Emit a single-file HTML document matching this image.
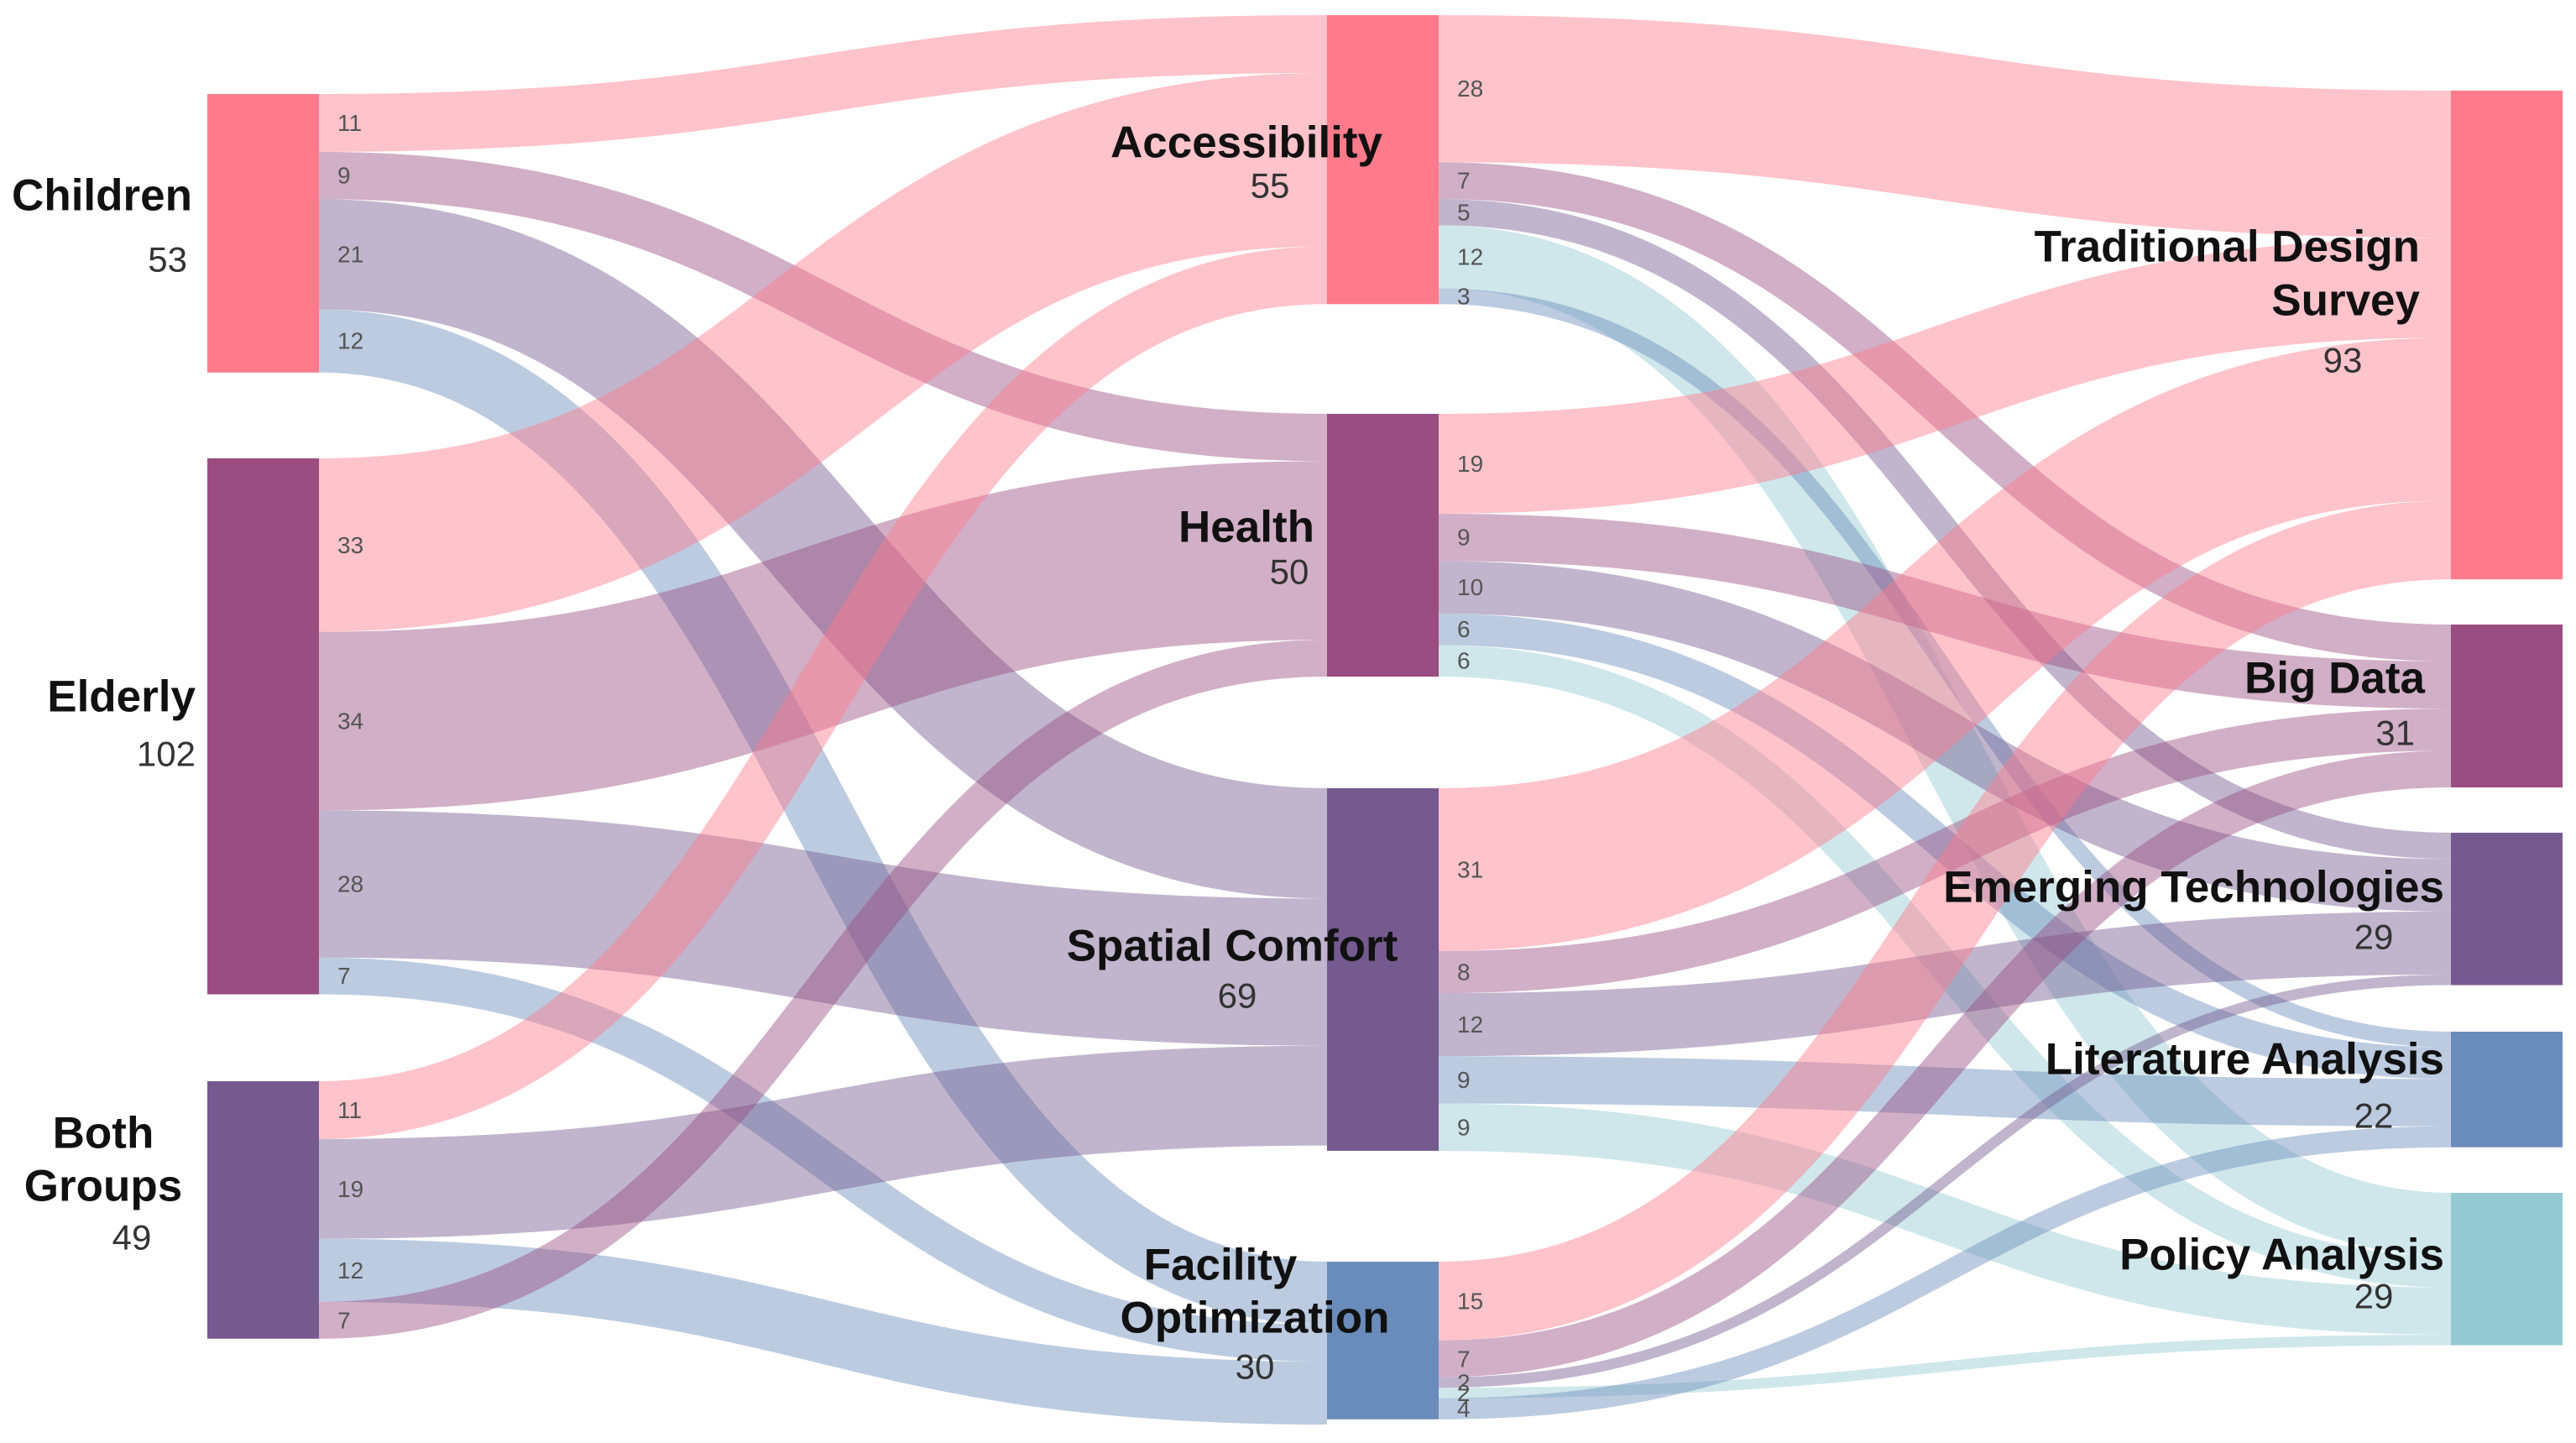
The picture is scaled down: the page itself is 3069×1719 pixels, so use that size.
<!DOCTYPE html>
<html><head><meta charset="utf-8">
<style>
html,body{margin:0;padding:0;background:#fff;}
svg{display:block;font-family:"Liberation Sans",sans-serif;}
.nl{font-weight:bold;font-size:53px;fill:#111;}
.nv{font-size:42px;fill:#333;}
.lv{font-size:28px;fill:#555;}
</style></head>
<body>
<svg id="chart" width="3069" height="1719" viewBox="0 0 3069 1719" xmlns="http://www.w3.org/2000/svg">
<g id="links"></g>
<g id="nodes"></g>
<g id="labels"></g>
</svg>
<script>
// Nodes
const nodeNames = ["Children","Elderly","Both Groups","Accessibility","Health","Spatial Comfort","Facility Optimization","Traditional Design Survey","Big Data","Emerging Technologies","Literature Analysis","Policy Analysis"];
const nodeValues = [53,102,49,55,50,69,30,93,31,29,22,29];
const nodeColumn = [0,0,0,1,1,1,1,2,2,2,2,2];
// Links (in source-side order)
const linkSources = [0,0,0,0, 1,1,1,1, 2,2,2,2, 3,3,3,3,3, 4,4,4,4,4, 5,5,5,5,5, 6,6,6,6,6];
const linkTargets = [3,4,5,6, 3,4,5,6, 3,5,6,4, 7,8,9,11,10, 7,8,9,10,11, 7,8,9,10,11, 7,8,9,11,10];
const linkValues  = [11,9,21,12, 33,34,28,7, 11,19,12,7, 28,7,5,12,3, 19,9,10,6,6, 31,8,12,9,9, 15,7,2,2,4];

// Layout (not data)
const K = 6.26;
const colX = [247,1581,2920];
const nodeW = 133;
const nodeTop = [112,546,1288,18,493,939,1503,108,744,992,1229,1421];
const nodeColors = ["#ff7b8b","#9a4d80","#745a8f","#ff7b8b","#9a4d80","#745a8f","#6a8cba","#ff7b8b","#9a4d80","#745a8f","#6a8cba","#95cad2"];

const NS="http://www.w3.org/2000/svg";
const gL=document.getElementById('links'), gN=document.getElementById('nodes'), gT=document.getElementById('labels');

const srcOff = nodeNames.map(()=>0);
const linkY0 = [], linkY1 = [];
linkValues.forEach((v,i)=>{
  const s=linkSources[i];
  linkY0[i]=nodeTop[s]+srcOff[s]+v*K/2;
  srcOff[s]+=v*K;
});
const order = linkValues.map((v,i)=>i).sort((a,b)=> linkSources[a]-linkSources[b] || a-b);
const tgtOff = nodeNames.map(()=>0);
order.forEach(i=>{
  const t=linkTargets[i], v=linkValues[i];
  linkY1[i]=nodeTop[t]+tgtOff[t]+v*K/2;
  tgtOff[t]+=v*K;
});

linkValues.forEach((v,i)=>{
  const s=linkSources[i], t=linkTargets[i];
  const x0=colX[nodeColumn[s]]+nodeW, x1=colX[nodeColumn[t]];
  const xm=(x0+x1)/2;
  const p=document.createElementNS(NS,'path');
  p.setAttribute('d',`M${x0},${linkY0[i]} C${xm},${linkY0[i]} ${xm},${linkY1[i]} ${x1},${linkY1[i]}`);
  p.setAttribute('fill','none');
  p.setAttribute('stroke',nodeColors[t]);
  p.setAttribute('stroke-opacity','0.45');
  p.setAttribute('stroke-width',v*K);
  
  
  gL.appendChild(p);
  const tx=document.createElementNS(NS,'text');
  tx.setAttribute('x',x0+22);
  tx.setAttribute('y',linkY0[i]);
  tx.setAttribute('dominant-baseline','central');
  tx.setAttribute('class','lv');
  tx.textContent=v;
  
  
  gT.appendChild(tx);
});

nodeValues.forEach((v,i)=>{
  const r=document.createElementNS(NS,'rect');
  r.setAttribute('x',colX[nodeColumn[i]]);
  r.setAttribute('y',nodeTop[i]);
  r.setAttribute('width',nodeW);
  r.setAttribute('height',v*K);
  r.setAttribute('fill',nodeColors[i]);
  
  
  gN.appendChild(r);
});

const labelSpec = [
  [["Children"],229,[233],"end",223,309,"end"],
  [["Elderly"],233,[830],"end",233,898,"end"],
  [["Both","Groups"],123,[1350,1413],"middle",157,1474,"middle"],
  [["Accessibility"],1485,[170],"middle",1513,221,"middle"],
  [["Health"],1485,[628],"middle",1536,681,"middle"],
  [["Spatial Comfort"],1468,[1127],"middle",1474,1186,"middle"],
  [["Facility","Optimization"],1454,[1507,1570],"middle",1495,1628,"middle"],
  [["Traditional Design","Survey"],2883,[294,358],"end",2791,429,"middle"],
  [["Big Data"],2889,[808],"end",2877,873,"end"],
  [["Emerging Technologies"],2912,[1057],"end",2828,1116,"middle"],
  [["Literature Analysis"],2912,[1262],"end",2828,1329,"middle"],
  [["Policy Analysis"],2912,[1495],"end",2828,1544,"middle"]
];
labelSpec.forEach((sp,i)=>{
  const [lines,x,ys,anc,vx,vy,va]=sp;
  lines.forEach((ln,j)=>{
    const t=document.createElementNS(NS,'text');
    t.setAttribute('x', i===6&&j===1?1495:x);
    t.setAttribute('y',ys[j]);
    t.setAttribute('text-anchor',anc);
    t.setAttribute('dominant-baseline','central');
    t.setAttribute('class','nl');
    t.textContent=ln;
    
    
    gT.appendChild(t);
  });
  const t=document.createElementNS(NS,'text');
  t.setAttribute('x',vx);
  t.setAttribute('y',vy);
  t.setAttribute('text-anchor',va);
  t.setAttribute('dominant-baseline','central');
  t.setAttribute('class','nv');
  t.textContent=nodeValues[i];
  
  
  gT.appendChild(t);
});
</script>
</body></html>
